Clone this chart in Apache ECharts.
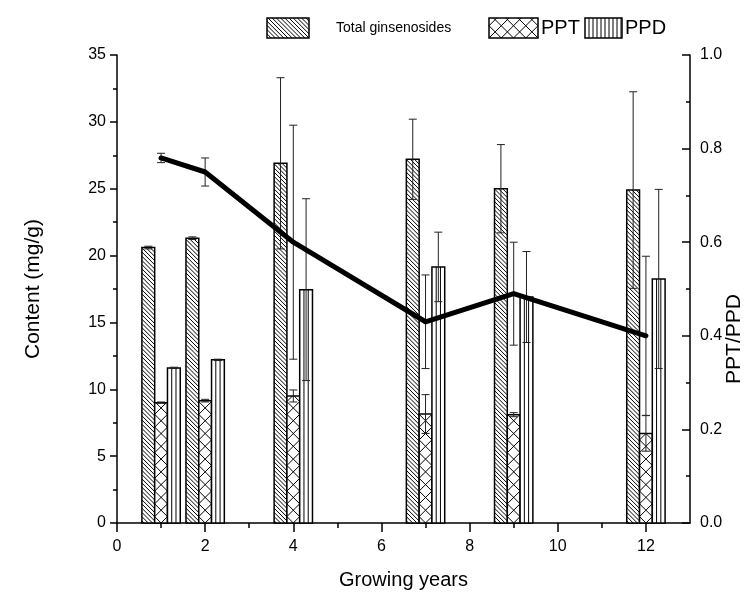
<!DOCTYPE html>
<html>
<head>
<meta charset="utf-8">
<script src="https://cdn.jsdelivr.net/npm/echarts@6/dist/echarts.min.js"></script>
<style>
  html, body { margin: 0; padding: 0; background: #fff; }
  #chart { width: 748px; height: 595px; }
</style>
</head>
<body>
<div id="chart"></div>
<script>
// data
const years = [1, 2, 4, 7, 9, 12];
const totalMean = [20.6, 21.3, 26.9, 27.2, 25.0, 24.9];
const totalErr = [0.1, 0.1, 6.4, 3.0, 3.3, 7.35];
const pptMean = [9.0, 9.15, 9.5, 8.15, 8.1, 6.7];
const pptErr = [0.05, 0.1, 0.45, 1.45, 0.15, 1.33];
const ppdMean = [11.6, 12.2, 17.45, 19.15, 16.9, 18.25];
const ppdErr = [0.05, 0.05, 6.8, 2.6, 3.4, 6.7];
const ratioMean = [0.78, 0.75, 0.60, 0.43, 0.49, 0.40];
const ratioErr = [0.01, 0.03, 0.25, 0.10, 0.11, 0.17];
const xTicks = [0, 2, 4, 6, 8, 10, 12];
const xMinorTicks = [1, 3, 5, 7, 9, 11];

const FONT = 'Liberation Sans, Arial, sans-serif';
const BAR_W = 0.29; // in x units
const CAP = 4;      // half cap width, px

// hatch segments clipped to a rect
function hatch (x0, y0, x1, y1, kind, step, ax, ay) {
  const segs = [];
  if (kind === 'vert') {
    const k = Math.ceil((x0 - ax) / step);
    for (let x = ax + k * step; x < x1 - 0.8; x += step) {
      if (x > x0 + 0.8) segs.push([x, y0, x, y1]);
    }
  } else if (kind === 'back') { // y - x = c
    const cMin = y0 - x1, cMax = y1 - x0, c0 = ay - ax;
    for (let c = c0 + Math.floor((cMin - c0) / step) * step; c <= cMax; c += step) {
      const xs = Math.max(x0, y0 - c), xe = Math.min(x1, y1 - c);
      if (xe - xs > 0.3) segs.push([xs, xs + c, xe, xe + c]);
    }
  } else { // y + x = c
    const cMin = x0 + y0, cMax = x1 + y1, c0 = ay + ax;
    for (let c = c0 + Math.floor((cMin - c0) / step) * step; c <= cMax; c += step) {
      const xs = Math.max(x0, c - y1), xe = Math.min(x1, c - y0);
      if (xe - xs > 0.3) segs.push([xs, c - xs, xe, c - xe]);
    }
  }
  return segs;
}

function patternBox (x0, y0, x1, y1, kind, w) {
  const cx = (x0 + x1) / 2;
  const children = [{
    type: 'rect', shape: { x: x0, y: y0, width: x1 - x0, height: y1 - y0 },
    style: { fill: '#fff' }
  }];
  let segs;
  if (kind === 'total') {
    segs = hatch(x0, y0, x1, y1, 'back', 4.2, cx, y1);
  } else if (kind === 'ppt') {
    segs = hatch(x0, y0, x1, y1, 'back', w, cx, y1).concat(hatch(x0, y0, x1, y1, 'fwd', w, cx, y1));
  } else {
    segs = hatch(x0, y0, x1, y1, 'vert', w, x0, y1);
  }
  segs.forEach(s => children.push({
    type: 'line', shape: { x1: s[0], y1: s[1], x2: s[2], y2: s[3] },
    style: { stroke: '#000', lineWidth: 1 }
  }));
  children.push({
    type: 'rect', shape: { x: x0, y: y0, width: x1 - x0, height: y1 - y0 },
    style: { fill: 'none', stroke: '#000', lineWidth: 1.5 }
  });
  return children;
}

function errorBar (x, yTop, yBot) {
  const st = { stroke: '#222', lineWidth: 1 };
  return [
    { type: 'line', shape: { x1: x, y1: yTop, x2: x, y2: yBot }, style: st },
    { type: 'line', shape: { x1: x - CAP, y1: yTop, x2: x + CAP, y2: yTop }, style: st },
    { type: 'line', shape: { x1: x - CAP, y1: yBot, x2: x + CAP, y2: yBot }, style: st }
  ];
}

function barRenderer (offset, kind) {
  return function (params, api) {
    const yr = api.value(0), m = api.value(1), er = api.value(2);
    const w = api.size([BAR_W, 0])[0];
    const cx = api.coord([yr + offset, 0])[0];
    const yb = api.coord([yr + offset, 0])[1];
    const yt = api.coord([yr + offset, m])[1];
    const step = kind === 'ppt' ? w : w / 3;
    let children = patternBox(cx - w / 2, yt, cx + w / 2, yb, kind, step);
    children = children.concat(errorBar(cx, api.coord([yr, m + er])[1], api.coord([yr, m - er])[1]));
    return { type: 'group', children: children };
  };
}

function barSeries (name, means, errs, offset, kind) {
  return {
    name: name,
    type: 'custom',
    xAxisIndex: 0,
    yAxisIndex: 0,
    z: 2,
    renderItem: barRenderer(offset, kind),
    data: years.map((yr, i) => [yr, means[i], errs[i]])
  };
}

// legend drawn as graphic
const legendItems = [];
function legendEntry (x0, x1, kind, label, lx, size) {
  const w = kind === 'ppt' ? (x1 - x0) / 4 : 4;
  legendItems.push({ type: 'group', children: patternBox(x0, 18, x1, 38, kind, w) });
  legendItems.push({
    type: 'text', x: lx, y: 28,
    style: { text: label, fill: '#000', font: size + 'px ' + FONT, verticalAlign: 'middle' }
  });
}
legendEntry(267, 309, 'total', 'Total ginsenosides', 336, 14);
legendEntry(489, 538, 'ppt', 'PPT', 541, 20);
legendEntry(585, 622, 'ppd', 'PPD', 625, 20);

const chart = echarts.init(document.getElementById('chart'));

const option = {
  animation: false,
  backgroundColor: '#fff',
  grid: { left: 117, right: 58, top: 55, bottom: 72, containLabel: false, outerBoundsMode: 'none' },
  xAxis: [
    {
      type: 'value',
      min: 0,
      max: 13,
      interval: 2,
      position: 'bottom',
      name: 'Growing years',
      nameLocation: 'middle',
      nameGap: 47,
      nameTextStyle: { color: '#000', fontSize: 20, fontFamily: FONT },
      axisLine: { show: true, onZero: false, lineStyle: { color: '#000', width: 1.5 } },
      axisTick: { show: true, length: 9, customValues: xTicks, lineStyle: { color: '#000', width: 1.5 } },
      axisLabel: { color: '#000', fontSize: 16, fontFamily: FONT, margin: 16, customValues: xTicks },
      splitLine: { show: false }
    },
    {
      type: 'value',
      min: 0,
      max: 13,
      position: 'bottom',
      axisLine: { show: false, onZero: false },
      axisTick: { show: true, length: 5, customValues: xMinorTicks, lineStyle: { color: '#000', width: 1.5 } },
      axisLabel: { show: false },
      splitLine: { show: false }
    }
  ],
  yAxis: [
    {
      type: 'value',
      min: 0,
      max: 35,
      interval: 5,
      position: 'left',
      name: 'Content (mg/g)',
      nameLocation: 'middle',
      nameGap: 73,
      nameTextStyle: { color: '#000', fontSize: 21, fontFamily: FONT },
      axisLine: { show: true, onZero: false, lineStyle: { color: '#000', width: 1.5 } },
      axisTick: { show: true, length: 7, lineStyle: { color: '#000', width: 1.5 } },
      minorTick: { show: true, splitNumber: 2, length: 4, lineStyle: { color: '#000', width: 1.5 } },
      axisLabel: { color: '#000', fontSize: 16, fontFamily: FONT, margin: 11 },
      splitLine: { show: false }
    },
    {
      type: 'value',
      min: 0,
      max: 1,
      interval: 0.2,
      position: 'right',
      name: 'PPT/PPD',
      nameLocation: 'middle',
      nameGap: 34,
      nameMoveOverlap: false,
      nameTextStyle: { color: '#000', fontSize: 21, fontFamily: FONT, padding: [0, 100, 0, 0] },
      axisLine: { show: true, onZero: false, lineStyle: { color: '#000', width: 1.5 } },
      axisTick: { show: true, inside: true, length: 8, lineStyle: { color: '#000', width: 1.5 } },
      minorTick: { show: true, splitNumber: 2, length: 4, lineStyle: { color: '#000', width: 1.5 } },
      axisLabel: { color: '#000', fontSize: 16, fontFamily: FONT, margin: 10, formatter: v => v.toFixed(1) },
      splitLine: { show: false }
    }
  ],
  graphic: legendItems,
  series: [
    barSeries('Total ginsenosides', totalMean, totalErr, -BAR_W, 'total'),
    barSeries('PPT', pptMean, pptErr, 0, 'ppt'),
    barSeries('PPD', ppdMean, ppdErr, BAR_W, 'ppd'),
    {
      name: 'PPT/PPD error',
      type: 'custom',
      xAxisIndex: 0,
      yAxisIndex: 1,
      z: 3,
      renderItem: function (params, api) {
        const yr = api.value(0), m = api.value(1), er = api.value(2);
        const x = api.coord([yr, m])[0];
        return { type: 'group', children: errorBar(x, api.coord([yr, m + er])[1], api.coord([yr, m - er])[1]) };
      },
      data: years.map((yr, i) => [yr, ratioMean[i], ratioErr[i]])
    },
    {
      name: 'PPT/PPD',
      type: 'line',
      xAxisIndex: 0,
      yAxisIndex: 1,
      z: 4,
      symbol: 'none',
      lineStyle: { color: '#000', width: 5, cap: 'round', join: 'round' },
      data: years.map((yr, i) => [yr, ratioMean[i]])
    }
  ]
};

chart.setOption(option);
</script>
</body>
</html>
